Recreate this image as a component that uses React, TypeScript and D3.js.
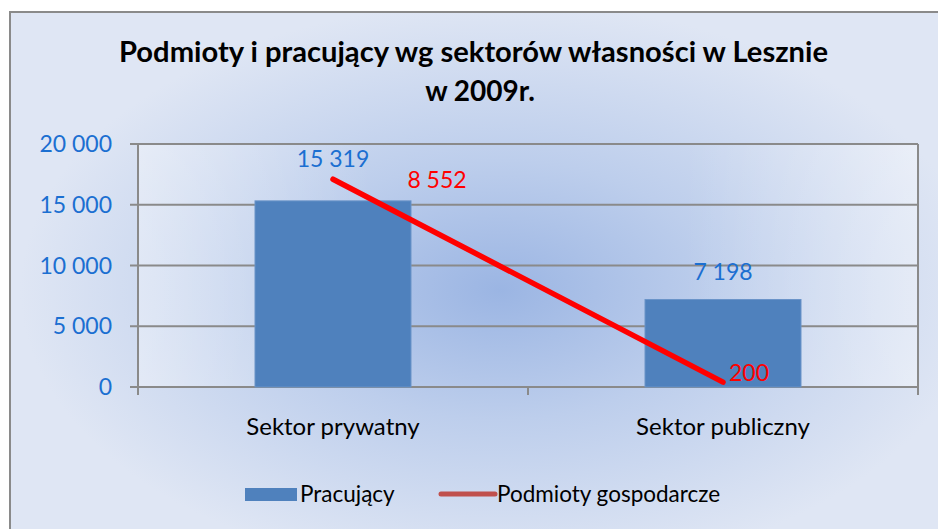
import React from "react";
import * as d3 from "d3";

const categories = ["Sektor prywatny", "Sektor publiczny"];
const pracujacy = [15319, 7198];
const podmioty = [8552, 200];
const yTicks = [0, 5000, 10000, 15000, 20000];
const titleLines = ["Podmioty i pracujący wg sektorów własności w Lesznie", "w 2009r."];
const seriesNames = ["Pracujący", "Podmioty gospodarcze"];

const W = 938;
const H = 529;
const FONT = "Lato, 'Open Sans', sans-serif";
const fmt = (v: number) => d3.format(",")(v).replace(/,/g, " ");

export default function App() {
  const left = 138, right = 918, top = 144, bottom = 387;
  const x = d3.scaleBand<string>().domain(categories).range([left, right]).padding(0);
  const y = d3.scaleLinear().domain([0, 20000]).range([bottom, top]);
  const y2 = d3.scaleLinear().domain([0, 10000]).range([bottom, top]);
  const bw = x.bandwidth() * 0.4;
  const cx = (c: string) => (x(c) as number) + x.bandwidth() / 2;
  const line = d3.line<number>().x((_, i) => cx(categories[i])).y((d) => y2(d));

  // label offsets (layout only)
  const barLabelDy = [-34, -20];
  const lineLabelDx = [104, 26];
  const lineLabelDy = [9, -1];

  return (
    <svg width={W} height={H} style={{ position: "absolute", left: 0, top: 0 }}>
      <defs>
        <radialGradient id="bg" cx="500" cy="290" r="480" gradientUnits="userSpaceOnUse"
          gradientTransform="translate(500 290) scale(1 0.6) translate(-500 -290)">
          <stop offset="0" stopColor="#9BB5E3" />
          <stop offset="0.45" stopColor="#BDCEEC" />
          <stop offset="1" stopColor="#DFE6F4" />
        </radialGradient>
        <linearGradient id="plotSheen" x1="0" y1="0" x2="1" y2="0">
          <stop offset="0" stopColor="#ffffff" stopOpacity="0.35" />
          <stop offset="0.3" stopColor="#ffffff" stopOpacity="0.0" />
          <stop offset="0.7" stopColor="#ffffff" stopOpacity="0.0" />
          <stop offset="1" stopColor="#ffffff" stopOpacity="0.35" />
        </linearGradient>
      </defs>
      <rect x={0} y={0} width={W} height={H} fill="#ffffff" />
      <rect x={10} y={12} width={940} height={540} fill="url(#bg)" stroke="#8A8A8A" strokeWidth={2} />
      <rect x={left} y={top} width={right - left} height={bottom - top} fill="url(#plotSheen)" />

      <text x={473.5} y={62} textAnchor="middle" fontFamily={FONT} fontWeight={700} fontSize={28}
        textLength={709} lengthAdjust="spacingAndGlyphs" fill="#000">{titleLines[0]}</text>
      <text x={480} y={101} textAnchor="middle" fontFamily={FONT} fontWeight={700} fontSize={28}
        fill="#000">{titleLines[1]}</text>

      {/* gridlines */}
      {yTicks.map((t) => (
        <line key={t} x1={left - 8} x2={right} y1={y(t)} y2={y(t)} stroke="#8A8A8A" strokeWidth={2} />
      ))}
      {/* axes */}
      <line x1={left} x2={left} y1={top} y2={bottom + 8} stroke="#8A8A8A" strokeWidth={2} />
      <line x1={right} x2={right} y1={top} y2={bottom + 8} stroke="#8A8A8A" strokeWidth={2} />
      {[left, (left + right) / 2].map((xx, i) => (
        <line key={i} x1={xx} x2={xx} y1={bottom} y2={bottom + 8} stroke="#8A8A8A" strokeWidth={2} />
      ))}
      {yTicks.map((t) => (
        <text key={t} x={112} y={y(t)} dy="0.35em" textAnchor="end" fontFamily={FONT}
          fontSize={23} fill="#1B6FD1">{fmt(t)}</text>
      ))}

      {/* bars */}
      {categories.map((c, i) => (
        <rect key={c} x={cx(c) - bw / 2} y={y(pracujacy[i])} width={bw} height={bottom - y(pracujacy[i])}
          fill="#4F81BD" stroke="#6A93C8" strokeWidth={1} />
      ))}
      {categories.map((c, i) => (
        <text key={c} x={cx(c)} y={y(pracujacy[i]) + barLabelDy[i]} textAnchor="middle"
          fontFamily={FONT} fontSize={23} fill="#1B6FD1">{fmt(pracujacy[i])}</text>
      ))}

      {/* line */}
      <path d={line(podmioty) || ""} fill="none" stroke="#FF0000" strokeWidth={5.5} strokeLinecap="round" />
      {categories.map((c, i) => (
        <text key={c} x={cx(c) + lineLabelDx[i]} y={y2(podmioty[i]) + lineLabelDy[i]} textAnchor="middle"
          fontFamily={FONT} fontSize={23} fill="#FF0000">{fmt(podmioty[i])}</text>
      ))}

      {/* category labels */}
      {categories.map((c) => (
        <text key={c} x={cx(c)} y={435} textAnchor="middle" fontFamily={FONT} fontSize={24} fill="#000">{c}</text>
      ))}

      {/* legend */}
      <rect x={245} y={488} width={52} height={13} fill="#4F81BD" />
      <text x={300} y={502} fontFamily={FONT} fontSize={22.5} fill="#000">{seriesNames[0]}</text>
      <line x1={441} x2={495} y1={494} y2={494} stroke="#C0504D" strokeWidth={5} strokeLinecap="round" />
      <text x={497} y={502} fontFamily={FONT} fontSize={22.5} fill="#000">{seriesNames[1]}</text>
    </svg>
  );
}
